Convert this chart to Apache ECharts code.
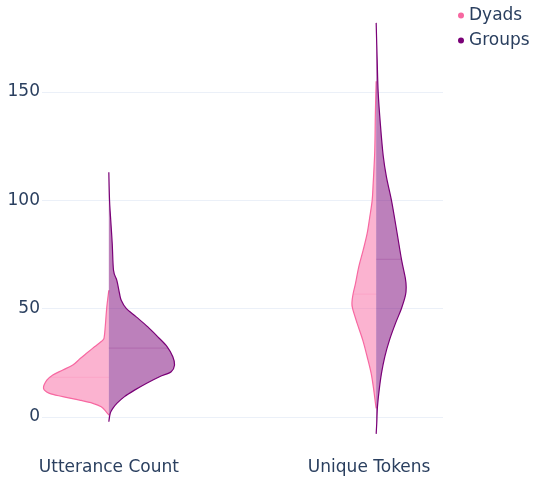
<!DOCTYPE html>
<html><head><meta charset="utf-8">
<script src="https://cdn.jsdelivr.net/npm/echarts@6/dist/echarts.min.js"></script>
<style>html,body{margin:0;padding:0;background:#fff}#c{width:533px;height:477px}</style>
</head><body><div id="c"></div>
<script>
// ---- data ----
const categories = ['Utterance Count', 'Unique Tokens'];
const seriesNames = ['Dyads', 'Groups'];
const yTicks = [0, 50, 100, 150];

// Dyads - Utterance Count (value levels, estimated density)
const dyadsUttValues  = [0.9, 2.4, 4.7, 6.3, 7.8, 9.4, 10.9, 13.2, 17, 19.4, 21.7, 24, 27, 29.3, 32.4, 35.5, 37, 41.6, 50.8, 58.5];
const dyadsUttDensity = [0, 2.6, 7.6, 16, 29.3, 46, 59.3, 65.3, 62, 56, 46, 36, 28.6, 22.6, 14.3, 6, 4.6, 3.6, 2, 0];
// Groups - Utterance Count
const groupsUttValues  = [-2.2, 1.7, 4.0, 6.3, 9.4, 12.4, 15.5, 18.6, 20.9, 24, 27.8, 32.4, 37, 41.6, 46.2, 50.1, 53.9, 57, 63.1, 67.7, 80, 92.3, 100, 113];
const groupsUttDensity = [0, 1.4, 4, 8, 15.7, 25.7, 37.4, 50.7, 62.4, 65.7, 64, 58.4, 49, 39, 27.4, 17.4, 12.4, 10.7, 8, 4.7, 3.4, 1.7, 0.7, 0];
// Dyads - Unique Tokens
const dyadsTokValues  = [4.0, 6.3, 12.4, 20.1, 27.8, 35.5, 43.2, 50.1, 53, 57, 61.6, 69.3, 77, 84.7, 92.3, 100, 107.7, 123, 140, 155];
const dyadsTokDensity = [0, 0.7, 2.4, 5, 9, 13.4, 19, 23.6, 24.2, 23, 20.7, 17.4, 13, 9, 6.4, 4, 3, 1.4, 0.8, 0];
// Groups - Unique Tokens
const groupsTokValues  = [-7.8, -2.8, 4.7, 12.4, 20.1, 27.8, 35.5, 43.2, 50.1, 56.2, 60, 64, 72.8, 84.7, 100, 110.7, 120.7, 134.6, 149.9, 165, 181.9];
const groupsTokDensity = [0, 0.6, 1.3, 3, 5.3, 8.6, 13.3, 19.3, 25.3, 29.3, 30, 29.2, 25.3, 21, 15.3, 10.3, 7, 4.3, 2, 1, 0];

// means
const dyadsMeans  = [18.3, 56.7];
const groupsMeans = [31.8, 72.8];

// ---- styles ----
const colors = ['#f768a1', '#7a0177'];
const fills = ['rgba(247,104,161,0.5)', 'rgba(122,1,119,0.5)'];
const textColor = '#2a3f5f';
const font = 'DejaVu Sans';
const fontSize = 17;
const densityScale = 1.5 / 401; // x-units per density unit

const profiles = [
  [ {v: dyadsUttValues, d: dyadsUttDensity}, {v: dyadsTokValues, d: dyadsTokDensity} ],
  [ {v: groupsUttValues, d: groupsUttDensity}, {v: groupsTokValues, d: groupsTokDensity} ]
];
const means = [dyadsMeans, groupsMeans];

function interp(vals, dens, y) {
  for (let i = 0; i < vals.length - 1; i++) {
    if (y >= vals[i] && y <= vals[i + 1]) {
      const t = (y - vals[i]) / (vals[i + 1] - vals[i]);
      return dens[i] + t * (dens[i + 1] - dens[i]);
    }
  }
  return 0;
}

function smoothPath(pts) {
  let d = '';
  for (let i = 0; i < pts.length - 1; i++) {
    const p0 = pts[Math.max(0, i - 1)], p1 = pts[i], p2 = pts[i + 1], p3 = pts[Math.min(pts.length - 1, i + 2)];
    const c1x = p1[0] + (p2[0] - p0[0]) / 6, c1y = p1[1] + (p2[1] - p0[1]) / 6;
    const c2x = p2[0] - (p3[0] - p1[0]) / 6, c2y = p2[1] - (p3[1] - p1[1]) / 6;
    d += ' C' + c1x.toFixed(2) + ' ' + c1y.toFixed(2) + ' ' + c2x.toFixed(2) + ' ' + c2y.toFixed(2) + ' ' + p2[0].toFixed(2) + ' ' + p2[1].toFixed(2);
  }
  return d;
}

function makeRender(sIdx) {
  const side = sIdx === 0 ? -1 : 1;
  return function (params, api) {
    const cat = api.value(0);
    const prof = profiles[sIdx][params.dataIndex];
    const pts = prof.v.map((v, i) => api.coord([cat + side * prof.d[i] * densityScale, v]));
    const cBottom = api.coord([cat, prof.v[0]]);
    const cTop = api.coord([cat, prof.v[prof.v.length - 1]]);
    const curve = 'M' + pts[0][0].toFixed(2) + ' ' + pts[0][1].toFixed(2) + smoothPath(pts);
    const fillPath = 'M' + cBottom[0].toFixed(2) + ' ' + cBottom[1].toFixed(2) +
      ' L' + pts[0][0].toFixed(2) + ' ' + pts[0][1].toFixed(2) + smoothPath(pts) +
      ' L' + cTop[0].toFixed(2) + ' ' + cTop[1].toFixed(2) + ' Z';
    const m = means[sIdx][params.dataIndex];
    const mw = interp(prof.v, prof.d, m);
    const m0 = api.coord([cat, m]);
    const m1 = api.coord([cat + side * mw * densityScale, m]);
    return {
      type: 'group',
      children: [
        {type: 'path', shape: {pathData: fillPath}, style: {fill: fills[sIdx], stroke: null}},
        {type: 'line', shape: {x1: m0[0], y1: m0[1], x2: m1[0], y2: m1[1]},
         style: {stroke: colors[sIdx], lineWidth: 1, opacity: 0.18}},
        {type: 'path', shape: {pathData: curve}, style: {fill: null, stroke: colors[sIdx], lineWidth: 1.2}}
      ]
    };
  };
}

const chart = echarts.init(document.getElementById('c'), null, {renderer: 'canvas'});
chart.setOption({
  backgroundColor: '#ffffff',
  animation: false,
  textStyle: {fontFamily: font},
  legend: {
    data: seriesNames,
    orient: 'vertical',
    left: 453, top: 2,
    icon: 'circle',
    itemWidth: 6, itemHeight: 6, itemGap: 8,
    textStyle: {color: textColor, fontSize: fontSize, fontFamily: font}
  },
  grid: {left: 42, right: 90, top: 92, bottom: 60, containLabel: false},
  xAxis: {
    type: 'value', min: -0.25, max: 1.25, interval: 0.25,
    splitLine: {show: false}, axisLine: {show: false}, axisTick: {show: false},
    axisLabel: {
      margin: 42, color: textColor, fontSize: fontSize, fontFamily: font,
      showMinLabel: false, showMaxLabel: false,
      formatter: function (v) {
        const i = Math.round(v);
        if (Math.abs(v - i) < 1e-6 && i >= 0 && i < categories.length) {
          return i === 1 ? '{s|' + categories[i] + '}' : categories[i];
        }
        return '';
      },
      rich: {s: {color: textColor, fontSize: fontSize, fontFamily: font, padding: [0, 14, 0, 0]}}
    }
  },
  yAxis: {
    type: 'value', min: yTicks[0], max: yTicks[yTicks.length - 1], interval: 50,
    axisLine: {show: false}, axisTick: {show: false},
    splitLine: {show: true, lineStyle: {color: '#ebf0f8', width: 1}},
    axisLabel: {margin: 2, color: textColor, fontSize: fontSize, fontFamily: font}
  },
  series: seriesNames.map((name, s) => ({
    name: name,
    type: 'custom',
    clip: false,
    itemStyle: {color: colors[s]},
    encode: {x: 0, y: 1},
    data: categories.map((c, i) => [i, 0]),
    renderItem: makeRender(s)
  }))
});
</script></body></html>
